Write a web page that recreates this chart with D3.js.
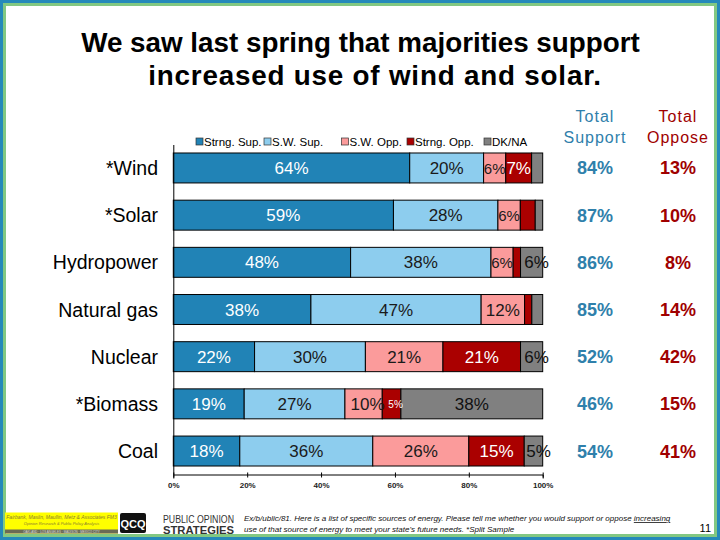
<!DOCTYPE html>
<html>
<head>
<meta charset="utf-8">
<script src="https://cdn.jsdelivr.net/npm/d3@7"></script>
<style>
html,body{margin:0;padding:0;background:#fff;}
svg{display:block;font-family:"Liberation Sans",Arial,sans-serif;}
</style>
</head>
<body>
<svg id="chart" width="720" height="540"></svg>
<script>
// ---- data ----
const categories = ["*Wind", "*Solar", "Hydropower", "Natural gas", "Nuclear", "*Biomass", "Coal"];
const seriesNames = ["Strng. Sup.", "S.W. Sup.", "S.W. Opp.", "Strng. Opp.", "DK/NA"];
const strngSup  = [64, 59, 48, 38, 22, 19, 18];
const swSup     = [20, 28, 38, 47, 30, 27, 36];
const swOpp     = [6, 6, 6, 12, 21, 10, 26];
const strngOpp  = [7, 4, 2, 2, 21, 5, 15];
const dkNa      = [3, 2, 6, 3, 6, 38, 5];
const totalSupport = [84, 87, 86, 85, 52, 46, 54];
const totalOppose  = [13, 10, 8, 14, 42, 15, 41];
const xTicks = [0, 0.2, 0.4, 0.6, 0.8, 1.0];

// ---- styles ----
const colors = ["#2183b6", "#8dcdee", "#fb9b9b", "#aa0000", "#808080"];
const labelColors = ["#ffffff", "#1a1a1a", "#1a1a1a", "#ffffff", "#111111"];

const seriesValues = [strngSup, swSup, swOpp, strngOpp, dkNa];
const rows = categories.map((c, i) => {
  const o = {cat: c};
  seriesNames.forEach((s, j) => o[s] = seriesValues[j][i]);
  return o;
});

const svg = d3.select("#chart");

// frame
svg.append("rect").attr("x", 0).attr("y", 0).attr("width", 720).attr("height", 540).attr("fill", "#2589ba");
svg.append("rect").attr("x", 3).attr("y", 3).attr("width", 714).attr("height", 534).attr("fill", "#82c882");
svg.append("rect").attr("x", 6).attr("y", 6).attr("width", 708).attr("height", 528).attr("fill", "#ffffff");

// title
svg.append("text").attr("text-anchor", "middle").attr("font-weight", "bold")
  .attr("font-size", 27.8).attr("fill", "#000").attr("x", 360.5).attr("y", 52)
  .text("We saw last spring that majorities support");
svg.append("text").attr("text-anchor", "middle").attr("font-weight", "bold")
  .attr("font-size", 27.8).attr("letter-spacing", 0.8).attr("fill", "#000").attr("x", 375).attr("y", 84.5)
  .text("increased use of wind and solar.");

// scales
const x = d3.scaleLinear().domain([0, 1]).range([173.3, 542.7]);
const y = d3.scaleBand().domain(categories).range([144.5, 474.5]).paddingInner(0.365).paddingOuter(0.18);

const stack = d3.stack().keys(seriesNames).offset(d3.stackOffsetExpand);
const stacked = stack(rows);

// bars
const g = svg.append("g");
stacked.forEach((layer, si) => {
  g.selectAll(null).data(layer).join("rect")
    .attr("x", d => x(d[0]))
    .attr("y", d => y(d.data.cat))
    .attr("width", d => x(d[1]) - x(d[0]))
    .attr("height", y.bandwidth())
    .attr("fill", colors[si])
    .attr("stroke", "#000")
    .attr("stroke-width", 1);
});

// bar labels
stacked.forEach((layer, si) => {
  layer.forEach(d => {
    const v = d.data[seriesNames[si]];
    if (v < 5) return;
    const w = x(d[1]) - x(d[0]);
    const last = si === seriesNames.length - 1;
    const small = w < 20 && !last;
    const narrow = w < 24 && !last;
    const dx = last && w < 30 ? 5 : (small ? 4 : (v === 10 ? 4 : 0));
    svg.append("text")
      .attr("x", (x(d[0]) + x(d[1])) / 2 + dx)
      .attr("y", y(d.data.cat) + y.bandwidth() / 2 + (small ? 4 : 6))
      .attr("text-anchor", "middle")
      .attr("font-size", small ? 10 : (narrow ? 15 : 17))
      .attr("fill", labelColors[si])
      .text(v + "%");
  });
});

// axes
const xAxis = d3.axisBottom(x).tickValues(xTicks).tickSize(4).tickFormat(d3.format(".0%"));
const xg = svg.append("g").attr("transform", "translate(0,474.5)").call(xAxis);
xg.select(".domain").attr("stroke", "#000");
xg.selectAll(".tick line").attr("stroke", "#000").attr("y1", -2).attr("y2", 3);
xg.selectAll(".tick text").attr("font-size", 8).attr("font-weight", "bold").attr("fill", "#222")
  .attr("font-family", "\"Liberation Sans\",Arial,sans-serif").attr("dy", "0.9em").attr("y", 6);

const yAxis = d3.axisLeft(y).tickSize(0).tickFormat("");
const yg = svg.append("g").attr("transform", "translate(173.3,0)").call(yAxis);
yg.select(".domain").attr("stroke", "#000");

// category labels
svg.selectAll(null).data(categories).join("text")
  .attr("x", 158)
  .attr("y", d => y(d) + y.bandwidth() / 2 + 7)
  .attr("text-anchor", "end")
  .attr("font-size", 19.5)
  .attr("fill", "#000")
  .text(d => d);

// legend
const legendX = [196, 264, 341.5, 407, 484];
seriesNames.forEach((s, i) => {
  svg.append("rect").attr("x", legendX[i]).attr("y", 138).attr("width", 7).attr("height", 7)
    .attr("fill", colors[i]).attr("stroke", "#333").attr("stroke-width", 0.7);
  svg.append("text").attr("x", legendX[i] + 8).attr("y", 146).attr("font-size", 11.5)
    .attr("fill", "#000").text(s);
});

// totals columns
const supColor = "#2f80ab", oppColor = "#a00000";
const colSup = 595, colOpp = 678;
[["Total", 121.5], ["Support", 143]].forEach(([t, yy]) => {
  svg.append("text").attr("x", colSup).attr("y", yy).attr("text-anchor", "middle")
    .attr("font-size", 16).attr("letter-spacing", 1).attr("fill", supColor).text(t);
});
[["Total", 121.5], ["Oppose", 143]].forEach(([t, yy]) => {
  svg.append("text").attr("x", colOpp).attr("y", yy).attr("text-anchor", "middle")
    .attr("font-size", 16).attr("letter-spacing", 1).attr("fill", oppColor).text(t);
});
svg.selectAll(null).data(totalSupport).join("text")
  .attr("x", colSup).attr("y", (d, i) => y(categories[i]) + y.bandwidth() / 2 + 6.5)
  .attr("text-anchor", "middle").attr("font-size", 18).attr("font-weight", "bold")
  .attr("fill", supColor).text(d => d + "%");
svg.selectAll(null).data(totalOppose).join("text")
  .attr("x", colOpp).attr("y", (d, i) => y(categories[i]) + y.bandwidth() / 2 + 6.5)
  .attr("text-anchor", "middle").attr("font-size", 18).attr("font-weight", "bold")
  .attr("fill", oppColor).text(d => d + "%");

// footer: FM3 logo
svg.append("rect").attr("x", 5).attr("y", 512.5).attr("width", 113).attr("height", 21).attr("fill", "#ffff00");
svg.append("rect").attr("x", 5).attr("y", 529.5).attr("width", 113).attr("height", 4).attr("fill", "#6b6b55");
svg.append("text").attr("x", 61.5).attr("y", 519).attr("text-anchor", "middle").attr("font-size", 5)
  .attr("font-style", "italic").attr("fill", "#8a7a30").text("Fairbank, Maslin, Maullin, Metz & Associates FM3");
svg.append("text").attr("x", 61.5).attr("y", 525).attr("text-anchor", "middle").attr("font-size", 4)
  .attr("font-style", "italic").attr("fill", "#8a7a30").text("Opinion Research & Public Policy Analysis");
svg.append("text").attr("x", 61.5).attr("y", 532.8).attr("text-anchor", "middle").attr("font-size", 3)
  .attr("fill", "#ddd").text("OAKLAND · LOS ANGELES · MADISON · MEXICO CITY");

// POS logo
svg.append("rect").attr("x", 120).attr("y", 513).attr("width", 26).attr("height", 20).attr("rx", 2).attr("fill", "#111");
svg.append("text").attr("x", 133).attr("y", 527.5).attr("text-anchor", "middle").attr("font-size", 11)
  .attr("font-weight", "bold").attr("fill", "#fff").text("QCQ");
svg.append("text").attr("x", 163).attr("y", 523).attr("font-size", 10.5).attr("fill", "#333")
  .attr("textLength", 71).attr("lengthAdjust", "spacingAndGlyphs").text("PUBLIC OPINION");
svg.append("text").attr("x", 163).attr("y", 534).attr("font-size", 10.5).attr("font-weight", "bold")
  .attr("textLength", 71).attr("lengthAdjust", "spacingAndGlyphs").attr("fill", "#333").text("STRATEGIES");

// footnote
const fn = svg.append("text").attr("font-size", 8).attr("font-style", "italic").attr("fill", "#111");
fn.append("tspan").attr("x", 244).attr("y", 521)
  .text("Ex/b/ublic/81. Here is a list of specific sources of energy.  Please tell me whether you would support or oppose ");
fn.append("tspan").attr("text-decoration", "underline").text("increasing");
svg.append("text").attr("x", 244).attr("y", 532).attr("font-size", 8).attr("font-style", "italic").attr("fill", "#111")
  .text("use of that source of energy to meet your state's future needs. *Split  Sample");

svg.append("text").attr("x", 711).attr("y", 532).attr("text-anchor", "end").attr("font-size", 11)
  .attr("fill", "#000").text("11");
</script>
</body>
</html>
